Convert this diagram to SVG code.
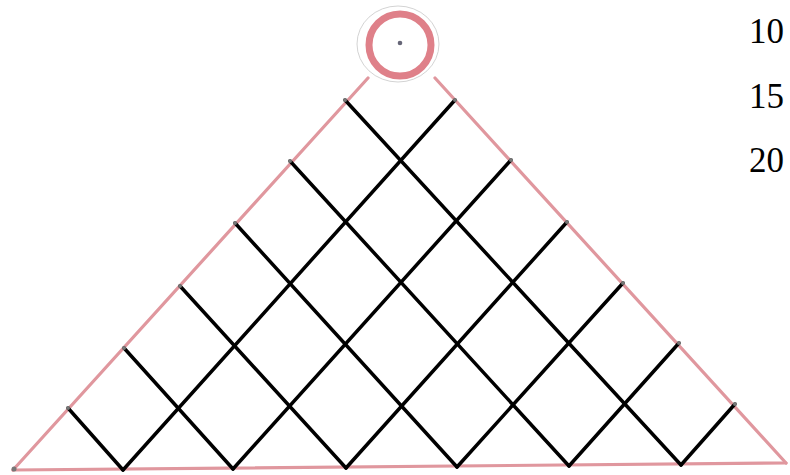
<svg xmlns="http://www.w3.org/2000/svg" width="790" height="475" viewBox="0 0 790 475">
<style>
.edge{stroke:#e0979e;stroke-width:3.2;fill:none;stroke-linecap:round}
.grid{stroke:#000;stroke-width:3.5;fill:none;stroke-linecap:round}
.dot{fill:#777}
.num{font-family:"Liberation Serif","Times New Roman",serif;font-size:35px;fill:#000}
</style>
<rect width="790" height="475" fill="#fff"/>
<g id="triangle">
<line class="edge" x1="368" y1="78" x2="13" y2="470"/>
<line class="edge" x1="435" y1="78" x2="786" y2="463"/>
<line class="edge" x1="13" y1="470" x2="786" y2="463"/>
</g>
<g id="apex-circle">
<ellipse cx="398" cy="44" rx="41" ry="38" fill="none" stroke="#c8c8c8" stroke-width="0.8"/>
<circle cx="400" cy="45" r="31" fill="none" stroke="#df8089" stroke-width="7"/>
<circle cx="400" cy="43" r="2.3" fill="#667"/>
</g>
<g id="connectors">
<line class="grid" x1="345" y1="100" x2="681" y2="465"/>
<line class="grid" x1="290" y1="161" x2="569" y2="466"/>
<line class="grid" x1="235" y1="223" x2="457" y2="467"/>
<line class="grid" x1="180" y1="286" x2="346" y2="468"/>
<line class="grid" x1="124" y1="348" x2="233" y2="469"/>
<line class="grid" x1="68" y1="408" x2="123" y2="470"/>
<line class="grid" x1="455" y1="100" x2="123" y2="470"/>
<line class="grid" x1="511" y1="160" x2="233" y2="469"/>
<line class="grid" x1="567" y1="222" x2="346" y2="468"/>
<line class="grid" x1="623" y1="283" x2="457" y2="467"/>
<line class="grid" x1="679" y1="343" x2="569" y2="466"/>
<line class="grid" x1="735" y1="404" x2="681" y2="465"/>
</g>
<g id="nodes">
<circle class="dot" cx="345" cy="100" r="2"/>
<circle class="dot" cx="290" cy="161" r="2"/>
<circle class="dot" cx="235" cy="223" r="2"/>
<circle class="dot" cx="180" cy="286" r="2"/>
<circle class="dot" cx="124" cy="348" r="2"/>
<circle class="dot" cx="68" cy="408" r="2"/>
<circle class="dot" cx="455" cy="100" r="2"/>
<circle class="dot" cx="511" cy="160" r="2"/>
<circle class="dot" cx="567" cy="222" r="2"/>
<circle class="dot" cx="623" cy="283" r="2"/>
<circle class="dot" cx="679" cy="343" r="2"/>
<circle class="dot" cx="735" cy="404" r="2"/>
<circle class="dot" cx="14" cy="469" r="2.5"/>
</g>
<g id="labels">
<text class="num" x="749" y="43">10</text>
<text class="num" x="749" y="108">15</text>
<text class="num" x="749" y="172">20</text>
</g>
</svg>
